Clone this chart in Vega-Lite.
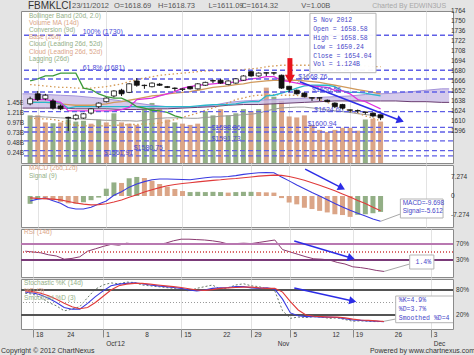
{
"$schema":"https://vega.github.io/schema/vega-lite/v6.json",
"background":"#e4e4e4",
"padding":0,
"bounds":"flush",
"spacing":2,
"config":{"view":{"stroke":"#8a8a8a","fill":"white"},"font":"Liberation Sans","axis":{"labelFont":"Liberation Sans"},"text":{"font":"Liberation Sans"}},
"datasets":{
"px":[
{"i":-1,"o":1634,"h":1644,"l":1632,"c":1641,"vol":1.15,"vd":"g","vma":1.12,"conv":1640,"base":1636,"bbu":1661,"bbm":1637,"bbl":1614,"lag":1666,"macd":-1.9,"sig":-0.7,"hist":-3.0,"hd":"g","rsi":52,"k":72,"d":75,"sd":78},
{"i":0,"o":1648,"h":1652,"l":1638,"c":1640,"vol":1.15,"vd":"r","vma":1.12,"conv":1640,"base":1636,"bbu":1660,"bbm":1636,"bbl":1613,"lag":1669,"macd":-1.2,"sig":-0.9,"hist":-1.2,"hd":"g","rsi":50,"k":70,"d":73,"sd":76},
{"i":1,"o":1641,"h":1648,"l":1639,"c":1646,"vol":0.98,"vd":"r","vma":1.11,"conv":1640,"base":1636,"bbu":1659,"bbm":1636,"bbl":1613,"lag":1673,"macd":-0.8,"sig":-1.0,"hist":-1.3,"hd":"r","rsi":48,"k":62,"d":68,"sd":72},
{"i":2,"o":1638,"h":1641,"l":1626,"c":1628,"vol":0.96,"vd":"g","vma":1.10,"conv":1638,"base":1636,"bbu":1658,"bbm":1635,"bbl":1612,"lag":1673,"macd":-1.8,"sig":-1.2,"hist":-1.6,"hd":"r","rsi":43,"k":50,"d":60,"sd":66},
{"i":3,"o":1631,"h":1633,"l":1625,"c":1627,"vol":0.98,"vd":"r","vma":1.09,"conv":1636,"base":1635,"bbu":1657,"bbm":1634,"bbl":1610,"lag":1677,"macd":-2.8,"sig":-1.5,"hist":-2.2,"hd":"r","rsi":40,"k":42,"d":50,"sd":58},
{"i":4,"o":1615,"h":1616,"l":1596,"c":1614,"vol":1.05,"vd":"g","vma":1.08,"conv":1624,"base":1628,"bbu":1657,"bbm":1633,"bbl":1606,"lag":1677,"macd":-4.4,"sig":-2.1,"hist":-2.8,"hd":"r","rsi":32,"k":30,"d":38,"sd":48},
{"i":5,"o":1613,"h":1620,"l":1611,"c":1618,"vol":1.00,"vd":"g","vma":1.07,"conv":1624,"base":1630,"bbu":1656,"bbm":1632,"bbl":1604,"lag":1677,"macd":-5.0,"sig":-2.7,"hist":-3.0,"hd":"r","rsi":34,"k":34,"d":34,"sd":40},
{"i":6,"o":1614,"h":1621,"l":1613,"c":1620,"vol":1.02,"vd":"g","vma":1.06,"conv":1624,"base":1630,"bbu":1656,"bbm":1632,"bbl":1603,"lag":1656,"macd":-5.0,"sig":-3.1,"hist":-2.4,"hd":"g","rsi":38,"k":40,"d":34,"sd":35},
{"i":7,"o":1621,"h":1628,"l":1619,"c":1627,"vol":0.95,"vd":"r","vma":1.05,"conv":1624,"base":1630,"bbu":1656,"bbm":1632,"bbl":1603,"lag":1654,"macd":-4.3,"sig":-3.4,"hist":-1.6,"hd":"g","rsi":52,"k":62,"d":48,"sd":38},
{"i":8,"o":1630,"h":1636,"l":1628,"c":1635,"vol":1.05,"vd":"g","vma":1.04,"conv":1624,"base":1630,"bbu":1657,"bbm":1633,"bbl":1603,"lag":1648,"macd":-3.1,"sig":-3.3,"hist":-0.6,"hd":"g","rsi":58,"k":82,"d":64,"sd":50},
{"i":9,"o":1637,"h":1643,"l":1636,"c":1642,"vol":0.98,"vd":"r","vma":1.03,"conv":1624,"base":1630,"bbu":1658,"bbm":1634,"bbl":1603,"lag":1644,"macd":-1.9,"sig":-3.0,"hist":2.8,"hd":"g","rsi":64,"k":92,"d":78,"sd":65},
{"i":10,"o":1645,"h":1653,"l":1643,"c":1652,"vol":1.20,"vd":"g","vma":1.03,"conv":1624,"base":1630,"bbu":1660,"bbm":1636,"bbl":1604,"lag":1642,"macd":0.3,"sig":-2.3,"hist":5.2,"hd":"g","rsi":69,"k":97,"d":90,"sd":80},
{"i":11,"o":1653,"h":1655,"l":1645,"c":1648,"vol":0.98,"vd":"r","vma":1.02,"conv":1626,"base":1630,"bbu":1662,"bbm":1637,"bbl":1604,"lag":1642,"macd":1.6,"sig":-1.5,"hist":5.0,"hd":"r","rsi":67,"k":95,"d":94,"sd":90},
{"i":12,"o":1650,"h":1663,"l":1649,"c":1662,"vol":0.95,"vd":"r","vma":1.02,"conv":1629,"base":1630,"bbu":1665,"bbm":1639,"bbl":1605,"lag":1637,"macd":3.4,"sig":-0.5,"hist":6.8,"hd":"g","rsi":72,"k":99,"d":96,"sd":94},
{"i":13,"o":1666,"h":1670,"l":1658,"c":1660,"vol":0.92,"vd":"r","vma":1.01,"conv":1640,"base":1630,"bbu":1668,"bbm":1641,"bbl":1605,"lag":1630,"macd":4.6,"sig":0.5,"hist":7.3,"hd":"g","rsi":70,"k":98,"d":97,"sd":96},
{"i":14,"o":1660,"h":1661,"l":1655,"c":1659.5,"vol":1.30,"vd":"g","vma":1.03,"conv":1641,"base":1630,"bbu":1670,"bbm":1643,"bbl":1606,"lag":1628,"macd":5.5,"sig":1.5,"hist":6.9,"hd":"r","rsi":69,"k":92,"d":95,"sd":96},
{"i":15,"o":1658,"h":1664,"l":1657,"c":1663,"vol":1.45,"vd":"g","vma":1.06,"conv":1642,"base":1630,"bbu":1672,"bbm":1645,"bbl":1606,"lag":1625,"macd":6.2,"sig":2.4,"hist":5.8,"hd":"r","rsi":71,"k":90,"d":92,"sd":94},
{"i":16,"o":1661.5,"h":1663,"l":1659,"c":1660,"vol":1.30,"vd":"r","vma":1.08,"conv":1645,"base":1630,"bbu":1674,"bbm":1646,"bbl":1607,"lag":1624,"macd":6.5,"sig":3.2,"hist":4.6,"hd":"r","rsi":69,"k":88,"d":90,"sd":92},
{"i":17,"o":1658,"h":1659,"l":1656,"c":1657,"vol":1.05,"vd":"r","vma":1.09,"conv":1648,"base":1630,"bbu":1675,"bbm":1648,"bbl":1609,"lag":1622,"macd":6.5,"sig":3.9,"hist":3.6,"hd":"r","rsi":72,"k":86,"d":88,"sd":90},
{"i":18,"o":1656,"h":1657,"l":1652,"c":1655.5,"vol":0.98,"vd":"g","vma":1.09,"conv":1651,"base":1630,"bbu":1676,"bbm":1649,"bbl":1612,"lag":1617,"macd":6.4,"sig":4.4,"hist":2.7,"hd":"r","rsi":78,"k":84,"d":86,"sd":88},
{"i":19,"o":1654,"h":1656,"l":1652,"c":1655,"vol":0.95,"vd":"r","vma":1.09,"conv":1656,"base":1630,"bbu":1677,"bbm":1650,"bbl":1615,"lag":1614.32,"macd":6.3,"sig":4.8,"hist":1.9,"hd":"r","rsi":82,"k":80,"d":84,"sd":86},
{"i":20,"o":1658,"h":1659,"l":1654,"c":1655,"vol":0.92,"vd":"r","vma":1.08,"conv":1658,"base":1630,"bbu":1678,"bbm":1651,"bbl":1618,"macd":6.2,"sig":5.1,"hist":1.5,"hd":"g","rsi":82,"k":78,"d":80,"sd":83},
{"i":21,"o":1655,"h":1663,"l":1654,"c":1662,"vol":0.95,"vd":"r","vma":1.08,"conv":1660,"base":1631,"bbu":1679,"bbm":1653,"bbl":1621,"macd":6.6,"sig":5.4,"hist":1.6,"hd":"g","rsi":81,"k":84,"d":78,"sd":80},
{"i":22,"o":1660,"h":1665,"l":1659,"c":1664,"vol":1.25,"vd":"g","vma":1.10,"conv":1661,"base":1632,"bbu":1680,"bbm":1655,"bbl":1625,"macd":7.0,"sig":5.7,"hist":1.5,"hd":"g","rsi":80,"k":88,"d":80,"sd":79},
{"i":23,"o":1666.5,"h":1668,"l":1663,"c":1666,"vol":1.15,"vd":"g","vma":1.11,"conv":1662,"base":1633,"bbu":1680,"bbm":1657,"bbl":1628,"macd":7.3,"sig":6.0,"hist":1.6,"hd":"g","rsi":78,"k":92,"d":84,"sd":81},
{"i":24,"o":1667,"h":1669,"l":1662,"c":1663,"vol":1.30,"vd":"r","vma":1.13,"conv":1663,"base":1633,"bbu":1681,"bbm":1658,"bbl":1632,"macd":7.3,"sig":6.2,"hist":1.5,"hd":"g","rsi":75,"k":82,"d":85,"sd":84},
{"i":25,"o":1661,"h":1667,"l":1660,"c":1666,"vol":1.15,"vd":"g","vma":1.14,"conv":1663,"base":1633,"bbu":1681,"bbm":1659,"bbl":1635,"macd":7.5,"sig":6.5,"hist":1.3,"hd":"r","rsi":70,"k":85,"d":86,"sd":85},
{"i":26,"o":1663,"h":1670,"l":1662,"c":1669,"vol":1.20,"vd":"g","vma":1.15,"conv":1665,"base":1634,"bbu":1681,"bbm":1661,"bbl":1640,"macd":7.8,"sig":6.7,"hist":1.5,"hd":"g","rsi":71,"k":92,"d":88,"sd":86},
{"i":27,"o":1667,"h":1674,"l":1666,"c":1673,"vol":1.30,"vd":"g","vma":1.17,"conv":1667,"base":1636,"bbu":1682,"bbm":1662,"bbl":1642,"macd":8.3,"sig":7.0,"hist":1.6,"hd":"g","rsi":72,"k":95,"d":88,"sd":87},
{"i":28,"o":1679,"h":1680,"l":1672,"c":1673,"vol":1.25,"vd":"r","vma":1.18,"conv":1669,"base":1637,"bbu":1683,"bbm":1664,"bbl":1645,"macd":8.6,"sig":7.3,"hist":1.6,"hd":"g","rsi":71,"k":90,"d":85,"sd":87},
{"i":29,"o":1673,"h":1678,"l":1672,"c":1677,"vol":1.30,"vd":"g","vma":1.20,"conv":1670,"base":1637,"bbu":1684,"bbm":1665,"bbl":1646,"macd":8.9,"sig":7.6,"hist":1.5,"hd":"r","rsi":74,"k":88,"d":84,"sd":85},
{"i":30,"o":1677.5,"h":1678,"l":1673,"c":1677,"vol":1.82,"vd":"r","vma":1.26,"conv":1672,"base":1645,"bbu":1686,"bbm":1666,"bbl":1646,"macd":9.0,"sig":7.8,"hist":1.4,"hd":"r","rsi":77,"k":82,"d":85,"sd":84},
{"i":31,"o":1677.5,"h":1678,"l":1674,"c":1677,"vol":1.60,"vd":"g","vma":1.30,"conv":1672,"base":1646,"bbu":1687,"bbm":1667,"bbl":1647,"macd":8.9,"sig":8.0,"hist":1.3,"hd":"r","rsi":80,"k":78,"d":82,"sd":84},
{"i":32,"o":1674,"h":1675,"l":1655,"c":1656,"vol":1.50,"vd":"r","vma":1.33,"conv":1667,"base":1649,"bbu":1688,"bbm":1667,"bbl":1646,"macd":7.3,"sig":7.9,"hist":-0.8,"hd":"r","rsi":56,"k":30,"d":58,"sd":75},
{"i":33,"o":1658.58,"h":1658.58,"l":1650.24,"c":1654.04,"vol":1.124,"vd":"r","vma":1.34,"conv":1665,"base":1652,"bbu":1688,"bbm":1667,"bbl":1646,"macd":5.8,"sig":7.5,"hist":-2.5,"hd":"r","rsi":50,"k":12,"d":25,"sd":52},
{"i":34,"o":1653,"h":1654,"l":1647,"c":1648,"vol":1.10,"vd":"r","vma":1.35,"conv":1663,"base":1656,"bbu":1688,"bbm":1667,"bbl":1646,"macd":4.2,"sig":6.8,"hist":-3.2,"hd":"r","rsi":44,"k":15,"d":18,"sd":32},
{"i":35,"o":1649,"h":1650,"l":1643,"c":1644,"vol":1.15,"vd":"r","vma":1.35,"conv":1661,"base":1659,"bbu":1688,"bbm":1666,"bbl":1644,"macd":2.8,"sig":6.0,"hist":-4.5,"hd":"r","rsi":38,"k":14,"d":16,"sd":20},
{"i":36,"o":1642.5,"h":1643,"l":1638,"c":1642,"vol":0.92,"vd":"r","vma":1.33,"conv":1659,"base":1660,"bbu":1688,"bbm":1665,"bbl":1642,"macd":1.3,"sig":5.1,"hist":-5.0,"hd":"r","rsi":33,"k":16,"d":16,"sd":17},
{"i":37,"o":1642.5,"h":1643,"l":1638,"c":1642,"vol":0.80,"vd":"r","vma":1.31,"conv":1658,"base":1660,"bbu":1688,"bbm":1664,"bbl":1640,"macd":0.0,"sig":4.1,"hist":-5.7,"hd":"r","rsi":32,"k":15,"d":15,"sd":16},
{"i":38,"o":1639,"h":1640,"l":1636,"c":1637,"vol":0.75,"vd":"r","vma":1.28,"conv":1657,"base":1660,"bbu":1688,"bbm":1662,"bbl":1636,"macd":-1.4,"sig":3.1,"hist":-6.3,"hd":"r","rsi":30,"k":12,"d":15,"sd":15},
{"i":39,"o":1635,"h":1636,"l":1628,"c":1630,"vol":0.80,"vd":"r","vma":1.26,"conv":1653,"base":1658,"bbu":1688,"bbm":1660,"bbl":1632,"macd":-2.9,"sig":2.0,"hist":-7.0,"hd":"r","rsi":24,"k":13,"d":14,"sd":15},
{"i":40,"o":1633,"h":1634,"l":1626,"c":1628,"vol":0.85,"vd":"r","vma":1.24,"conv":1652,"base":1652,"bbu":1688,"bbm":1658,"bbl":1628,"macd":-4.2,"sig":0.8,"hist":-7.3,"hd":"r","rsi":20,"k":9,"d":11,"sd":13},
{"i":41,"o":1625.5,"h":1626,"l":1622,"c":1625,"vol":0.85,"vd":"r","vma":1.22,"conv":1648,"base":1650,"bbu":1688,"bbm":1656,"bbl":1624,"macd":-5.5,"sig":-0.4,"hist":-8.0,"hd":"r","rsi":13,"k":5,"d":8,"sd":10},
{"i":42,"o":1624.5,"h":1626,"l":1621,"c":1624,"vol":0.78,"vd":"r","vma":1.19,"conv":1640,"base":1650,"bbu":1687,"bbm":1654,"bbl":1621,"macd":-6.6,"sig":-1.7,"hist":-7.2,"hd":"g","rsi":11,"k":6,"d":7,"sd":8},
{"i":43,"o":1622.5,"h":1623,"l":1619,"c":1622,"vol":1.05,"vd":"g","vma":1.17,"conv":1637,"base":1649,"bbu":1687,"bbm":1652,"bbl":1617,"macd":-7.7,"sig":-2.9,"hist":-7.0,"hd":"g","rsi":8,"k":5,"d":6,"sd":7},
{"i":44,"o":1621,"h":1622,"l":1615,"c":1617,"vol":1.07,"vd":"r","vma":1.15,"conv":1632,"base":1647,"bbu":1686,"bbm":1650,"bbl":1614,"macd":-8.8,"sig":-4.3,"hist":-6.6,"hd":"g","rsi":4,"k":4,"d":5,"sd":6},
{"i":45,"o":1618.69,"h":1618.73,"l":1611.09,"c":1614.32,"vol":1.00,"vd":"r","vma":1.12,"conv":1627,"base":1645,"bbu":1686,"bbm":1648,"bbl":1610,"macd":-9.698,"sig":-5.612,"hist":-6.1,"hd":"g","rsi":1.4,"k":4.9,"d":3.7,"sd":4.5}
],
"cloud":[
{"i":-2,"a":1648,"b":1628},{"i":-1,"a":1648,"b":1628},{"i":1,"a":1647,"b":1628},{"i":3,"a":1646,"b":1628},{"i":5,"a":1645,"b":1627},{"i":7,"a":1643,"b":1627},{"i":9,"a":1641,"b":1627},{"i":11,"a":1638,"b":1626},{"i":13,"a":1635,"b":1626},{"i":15,"a":1632,"b":1627},{"i":17,"a":1630,"b":1627},{"i":19,"a":1629,"b":1628},{"i":21,"a":1630,"b":1629},{"i":23,"a":1632,"b":1630},{"i":25,"a":1636,"b":1632},{"i":27,"a":1638,"b":1633},{"i":29,"a":1639,"b":1633},{"i":31,"a":1640,"b":1634},{"i":33,"a":1641,"b":1635},{"i":35,"a":1642,"b":1636},{"i":37,"a":1643,"b":1637},{"i":39,"a":1644,"b":1638},{"i":41,"a":1645,"b":1638},{"i":43,"a":1647,"b":1638},{"i":45,"a":1648,"b":1638},{"i":47,"a":1649,"b":1638},{"i":49,"a":1651,"b":1637},{"i":51,"a":1653,"b":1637},{"i":53,"a":1655,"b":1636},{"i":54,"a":1655,"b":1636}
],
"fib":[{"v":1730},{"v":1681},{"v":1668.76},{"v":1650.56},{"v":1623},{"v":1601},{"v":1594.5},{"v":1582},{"v":1568.5},{"v":1561}],
"fibl":[
{"i":5.9,"v":1734.6,"t":"100%  (1730)"},
{"i":5.9,"v":1684.1,"t":"61.8%  (1681)"},
{"i":34.2,"v":1671.5,"t":"$1668.76"},
{"i":36.0,"v":1653.3,"t":"$1650.56"},
{"i":36.3,"v":1625.5,"t":"$1624.60"},
{"i":35.4,"v":1605.7,"t":"$1600.94"},
{"i":22.8,"v":1600,"t":"$1598.86"},
{"i":22.8,"v":1585.4,"t":"$1591.73"},
{"i":12.6,"v":1572,"t":"$1580.75"},
{"i":8.7,"v":1565,"t":"$1561.91"}
],
"leg":[
{"i":-1.15,"v":1757,"t":"Bollinger Band (20d, 2.0)","s":"bb"},
{"i":-1.15,"v":1747.2,"t":"Volume MA (14d)","s":"vma"},
{"i":-1.15,"v":1737.4,"t":"Conversion (9d)","s":"conv"},
{"i":-1.15,"v":1727.6,"t":"Base (26d)","s":"base"},
{"i":-1.15,"v":1717.8,"t":"Cloud (Leading 26d, 52d)","s":"c1"},
{"i":-1.15,"v":1706.6,"t":"Cloud (Leading 26d, 52d)","s":"c2"},
{"i":-1.15,"v":1696.7,"t":"Lagging (26d)","s":"lag"}
],
"hdr":[
{"i":-1.28,"v":1771,"t":"FBMKLCI","s":"a"},
{"i":4.5,"v":1771,"t":"23/11/2012","s":"b"},
{"i":10.0,"v":1771,"t":"O=1618.69","s":"b"},
{"i":15.8,"v":1771,"t":"H=1618.73","s":"b"},
{"i":22.4,"v":1771,"t":"L=1611.09","s":"b"},
{"i":26.7,"v":1771,"t":"C=1614.32","s":"b"},
{"i":34.6,"v":1771,"t":"V=1.00B","s":"b"},
{"i":53.6,"v":1771,"t":"Charted By EDWIN3US","s":"c"}
],
"pl":[{"v":1596},{"v":1610},{"v":1624},{"v":1638},{"v":1652},{"v":1666},{"v":1680},{"v":1694},{"v":1708},{"v":1722},{"v":1736},{"v":1750},{"v":1764}],
"vl":[{"v":0.24,"t":"0.24B"},{"v":0.48,"t":"0.48B"},{"v":0.73,"t":"0.73B"},{"v":0.97,"t":"0.97B"},{"v":1.21,"t":"1.21B"},{"v":1.45,"t":"1.45B"}],
"ml":[{"v":7.274,"t":"7.274"},{"v":0,"t":"0"},{"v":-7.274,"t":"-7.274"}],
"rl":[{"v":70,"t":"70%"},{"v":30,"t":"30%"}],
"sl":[{"v":80,"t":"80%"},{"v":20,"t":"20%"}],
"xt":[
{"i":0,"t":"18","r":1},{"i":4,"t":"24","r":1},{"i":9,"t":"1","r":1},{"i":9,"t":"Oct'12","r":2},{"i":14,"t":"8","r":1},{"i":19,"t":"15","r":1},{"i":24,"t":"22","r":1},{"i":28,"t":"29","r":1},{"i":31,"t":"Nov","r":2},{"i":33,"t":"5","r":1},{"i":38,"t":"12","r":1},{"i":41,"t":"19","r":1},{"i":46,"t":"26","r":1},{"i":51,"t":"3","r":1},{"i":51,"t":"Dec","r":2}
],
"foot":[{"t":"Copyright © 2012 ChartNexus","s":"l"},{"t":"Powered by www.chartnexus.com","s":"r"}],
"red":[{"i":33.1,"v":1698,"v2":1674,"vh":1668.5}],
"arr":[
{"p":"main","i":34.4,"v":1665,"i2":47.6,"v2":1610.6},
{"p":"macd","i":35.1,"v":10.3,"i2":39.9,"v2":3.1},
{"p":"rsi","i":33.5,"v":77.5,"i2":40.8,"v2":35},
{"p":"sto","i":33.5,"v":84.8,"i2":41,"v2":53.6}
],
"box":[
{"p":"main","i":35.73,"i2":44.4,"v":1760.8,"v2":1677.6},
{"p":"macd","i":47.6,"i2":53.2,"v":-1.15,"v2":-8.43},
{"p":"rsi","i":48.3,"i2":51.4,"v":42.5,"v2":7.5},
{"p":"sto","i":46.5,"i2":56,"v":65.6,"v2":1.5}
],
"cn":[
{"p":"main","i":35.8,"i2":34.0,"v":1677.4,"v2":1663},
{"p":"macd","i":47.6,"i2":45,"v":-6.9,"v2":-9.698},
{"p":"rsi","i":48.3,"i2":45,"v":20,"v2":1.4},
{"p":"sto","i":46.5,"i2":45,"v":10.4,"v2":4.9}
],
"txt":[
{"p":"main","i":36.15,"v":1751.4,"t":"5 Nov 2012"},
{"p":"main","i":36.15,"v":1738.4,"t":"Open  = 1658.58"},
{"p":"main","i":36.15,"v":1725.8,"t":"High  = 1658.58"},
{"p":"main","i":36.15,"v":1713.6,"t":"Low   = 1650.24"},
{"p":"main","i":36.15,"v":1701,"t":"Close = 1654.04"},
{"p":"main","i":36.15,"v":1689.3,"t":"Vol   = 1.124B"},
{"p":"macd","i":47.9,"v":-2.68,"t":"MACD=-9.698"},
{"p":"macd","i":47.9,"v":-5.75,"t":"Signal=-5.612"},
{"p":"rsi","i":49.05,"v":25,"t":"1.4%"},
{"p":"sto","i":46.9,"v":57.2,"t":"%K=4.9%"},
{"p":"sto","i":46.9,"v":35.1,"t":"%D=3.7%"},
{"p":"sto","i":46.9,"v":13.5,"t":"Smoothed %D=4"}
],
"plab":[
{"p":"macd","i":-1.15,"v":10.7,"t":"MACD (26d,12d)","s":"blue"},
{"p":"macd","i":-1.15,"v":7.66,"t":"Signal (9)","s":"red"},
{"p":"rsi","i":-1.15,"v":100,"t":"RSI (14d)","s":"rsi"},
{"p":"sto","i":-1.15,"v":96.8,"t":"Stochastic %K (14d)","s":"k"},
{"p":"sto","i":-1.15,"v":77.6,"t":"%D (3)","s":"blue"},
{"p":"sto","i":-1.15,"v":60.8,"t":"Smoothed %D (3)","s":"red"}
]
},
"vconcat":[
{
"width":432,"height":152,
"resolve":{"scale":{"y":"independent"}},
"layer":[
{"layer":[
{"data":{"name":"px"},"mark":{"type":"bar","width":5},"encoding":{
"x":{"field":"i","type":"quantitative","scale":{"domain":[-1.54,53.85],"nice":false,"zero":false},"axis":{"values":[0,4,9,14,19,24,28,31,33,38,41,46,51],"grid":true,"gridColor":"#e3e3e3","labels":false,"ticks":false,"domain":false,"title":null}},
"y":{"field":"vol","type":"quantitative","scale":{"domain":[0,3.67],"nice":false,"zero":false},"axis":{"orient":"left","labels":false,"title":null,"ticks":false,"domain":false,"grid":false}},
"color":{"field":"vd","type":"nominal","scale":{"domain":["g","r"],"range":["#93af86","#dba587"]},"legend":null}}},
{"data":{"name":"px"},"mark":{"type":"line","color":"#9a9a9a","strokeWidth":1},"encoding":{
"x":{"field":"i","type":"quantitative","scale":{"domain":[-1.54,53.85],"nice":false,"zero":false}},
"y":{"field":"vma","type":"quantitative","scale":{"domain":[0,3.67],"nice":false,"zero":false}}}},
{"data":{"name":"vl"},"mark":{"type":"text","align":"right","baseline":"middle","fontSize":6.5,"color":"#333333"},"encoding":{
"x":{"datum":-1.8,"type":"quantitative","scale":{"domain":[-1.54,53.85],"nice":false,"zero":false}},
"y":{"field":"v","type":"quantitative","scale":{"domain":[0,3.67],"nice":false,"zero":false}},
"text":{"field":"t"}}}
]},
{"layer":[
{"data":{"name":"cloud"},"mark":{"type":"area","color":"#cbbde6","opacity":0.8,"clip":true},"encoding":{
"x":{"field":"i","type":"quantitative","scale":{"domain":[-1.54,53.85],"nice":false,"zero":false}},
"y":{"field":"a","type":"quantitative","scale":{"domain":[1551.1,1764],"nice":false,"zero":false},"axis":{"orient":"right","labels":false,"title":null,"ticks":false,"domain":false,"grid":false}},
"y2":{"field":"b"}}},
{"data":{"name":"cloud"},"mark":{"type":"line","color":"#a393da","strokeWidth":1,"clip":true},"encoding":{
"x":{"field":"i","type":"quantitative","scale":{"domain":[-1.54,53.85],"nice":false,"zero":false}},
"y":{"field":"a","type":"quantitative","scale":{"domain":[1551.1,1764],"nice":false,"zero":false}}}},
{"data":{"name":"cloud"},"mark":{"type":"line","color":"#6a3d70","strokeWidth":1,"clip":true},"encoding":{
"x":{"field":"i","type":"quantitative","scale":{"domain":[-1.54,53.85],"nice":false,"zero":false}},
"y":{"field":"b","type":"quantitative","scale":{"domain":[1551.1,1764],"nice":false,"zero":false}}}},
{"data":{"name":"px"},"mark":{"type":"line","color":"#d49a55","strokeWidth":1.3,"strokeDash":[1.5,2.5]},"encoding":{
"x":{"field":"i","type":"quantitative","scale":{"domain":[-1.54,53.85],"nice":false,"zero":false}},
"y":{"field":"bbu","type":"quantitative","scale":{"domain":[1551.1,1764],"nice":false,"zero":false}}}},
{"data":{"name":"px"},"mark":{"type":"line","color":"#d49a55","strokeWidth":1.3,"strokeDash":[1.5,2.5]},"encoding":{
"x":{"field":"i","type":"quantitative","scale":{"domain":[-1.54,53.85],"nice":false,"zero":false}},
"y":{"field":"bbl","type":"quantitative","scale":{"domain":[1551.1,1764],"nice":false,"zero":false}}}},
{"data":{"name":"px"},"mark":{"type":"line","color":"#d09a5c","strokeWidth":1.3},"encoding":{
"x":{"field":"i","type":"quantitative","scale":{"domain":[-1.54,53.85],"nice":false,"zero":false}},
"y":{"field":"bbm","type":"quantitative","scale":{"domain":[1551.1,1764],"nice":false,"zero":false}}}},
{"data":{"name":"px"},"mark":{"type":"line","color":"#2ab8cc","strokeWidth":1.3},"encoding":{
"x":{"field":"i","type":"quantitative","scale":{"domain":[-1.54,53.85],"nice":false,"zero":false}},
"y":{"field":"base","type":"quantitative","scale":{"domain":[1551.1,1764],"nice":false,"zero":false}}}},
{"data":{"name":"px"},"mark":{"type":"line","color":"#e030e0","strokeWidth":1.3},"encoding":{
"x":{"field":"i","type":"quantitative","scale":{"domain":[-1.54,53.85],"nice":false,"zero":false}},
"y":{"field":"conv","type":"quantitative","scale":{"domain":[1551.1,1764],"nice":false,"zero":false}}}},
{"data":{"name":"px"},"mark":{"type":"line","color":"#3a9a3a","strokeWidth":1.3},"encoding":{
"x":{"field":"i","type":"quantitative","scale":{"domain":[-1.54,53.85],"nice":false,"zero":false}},
"y":{"field":"lag","type":"quantitative","scale":{"domain":[1551.1,1764],"nice":false,"zero":false}}}},
{"data":{"name":"fib"},"mark":{"type":"rule","color":"#5f5fe6","strokeWidth":1.3,"strokeDash":[5,3]},"encoding":{
"y":{"field":"v","type":"quantitative","scale":{"domain":[1551.1,1764],"nice":false,"zero":false}}}},
{"data":{"name":"fibl"},"mark":{"type":"text","align":"left","baseline":"middle","fontSize":7,"color":"#4a4ad6"},"encoding":{
"x":{"field":"i","type":"quantitative","scale":{"domain":[-1.54,53.85],"nice":false,"zero":false}},
"y":{"field":"v","type":"quantitative","scale":{"domain":[1551.1,1764],"nice":false,"zero":false}},
"text":{"field":"t"}}},
{"data":{"name":"px"},"mark":{"type":"rule","color":"#111111","strokeWidth":1},"encoding":{
"x":{"field":"i","type":"quantitative","scale":{"domain":[-1.54,53.85],"nice":false,"zero":false}},
"y":{"field":"l","type":"quantitative","scale":{"domain":[1551.1,1764],"nice":false,"zero":false}},
"y2":{"field":"h"}}},
{"data":{"name":"px"},"mark":{"type":"bar","width":5,"stroke":"#111111","strokeWidth":0.8},"encoding":{
"x":{"field":"i","type":"quantitative","scale":{"domain":[-1.54,53.85],"nice":false,"zero":false}},
"y":{"field":"o","type":"quantitative","scale":{"domain":[1551.1,1764],"nice":false,"zero":false}},
"y2":{"field":"c"},
"fill":{"condition":{"test":"datum.c>=datum.o","value":"#ffffff"},"value":"#111111"}}},
{"data":{"name":"red"},"mark":{"type":"rule","color":"#e8141c","strokeWidth":5},"encoding":{
"x":{"field":"i","type":"quantitative","scale":{"domain":[-1.54,53.85],"nice":false,"zero":false}},
"y":{"field":"v","type":"quantitative","scale":{"domain":[1551.1,1764],"nice":false,"zero":false}},
"y2":{"field":"v2"}}},
{"data":{"name":"red"},"mark":{"type":"point","shape":"triangle-down","filled":true,"size":100,"color":"#e8141c","opacity":1},"encoding":{
"x":{"field":"i","type":"quantitative","scale":{"domain":[-1.54,53.85],"nice":false,"zero":false}},
"y":{"field":"vh","type":"quantitative","scale":{"domain":[1551.1,1764],"nice":false,"zero":false}}}},
{"data":{"name":"arr"},"transform":[{"filter":"datum.p=='main'"}],"mark":{"type":"rule","color":"#2c2ce6","strokeWidth":1.5},"encoding":{
"x":{"field":"i","type":"quantitative","scale":{"domain":[-1.54,53.85],"nice":false,"zero":false}},
"x2":{"field":"i2"},
"y":{"field":"v","type":"quantitative","scale":{"domain":[1551.1,1764],"nice":false,"zero":false}},
"y2":{"field":"v2"}}},
{"data":{"name":"arr"},"transform":[{"filter":"datum.p=='main'"}],"mark":{"type":"point","shape":"triangle-right","filled":true,"size":70,"color":"#2c2ce6","opacity":1,"angle":21},"encoding":{
"x":{"field":"i2","type":"quantitative","scale":{"domain":[-1.54,53.85],"nice":false,"zero":false}},
"y":{"field":"v2","type":"quantitative","scale":{"domain":[1551.1,1764],"nice":false,"zero":false}}}},
{"data":{"name":"cn"},"transform":[{"filter":"datum.p=='main'"}],"mark":{"type":"rule","color":"#a8a8a8","strokeWidth":1},"encoding":{
"x":{"field":"i","type":"quantitative","scale":{"domain":[-1.54,53.85],"nice":false,"zero":false}},
"x2":{"field":"i2"},
"y":{"field":"v","type":"quantitative","scale":{"domain":[1551.1,1764],"nice":false,"zero":false}},
"y2":{"field":"v2"}}},
{"data":{"name":"box"},"transform":[{"filter":"datum.p=='main'"}],"mark":{"type":"rect","fill":"#ffffff","fillOpacity":0.95,"stroke":"#b4b4b4","strokeWidth":1},"encoding":{
"x":{"field":"i","type":"quantitative","scale":{"domain":[-1.54,53.85],"nice":false,"zero":false}},
"x2":{"field":"i2"},
"y":{"field":"v","type":"quantitative","scale":{"domain":[1551.1,1764],"nice":false,"zero":false}},
"y2":{"field":"v2"}}},
{"data":{"name":"txt"},"transform":[{"filter":"datum.p=='main'"}],"mark":{"type":"text","align":"left","baseline":"middle","font":"Liberation Mono","fontSize":6.5,"color":"#4646c8"},"encoding":{
"x":{"field":"i","type":"quantitative","scale":{"domain":[-1.54,53.85],"nice":false,"zero":false}},
"y":{"field":"v","type":"quantitative","scale":{"domain":[1551.1,1764],"nice":false,"zero":false}},
"text":{"field":"t"}}},
{"data":{"name":"leg"},"mark":{"type":"text","align":"left","baseline":"middle","fontSize":6.5},"encoding":{
"x":{"field":"i","type":"quantitative","scale":{"domain":[-1.54,53.85],"nice":false,"zero":false}},
"y":{"field":"v","type":"quantitative","scale":{"domain":[1551.1,1764],"nice":false,"zero":false}},
"text":{"field":"t"},
"color":{"field":"s","type":"nominal","scale":{"domain":["bb","vma","conv","base","c1","c2","lag"],"range":["#c8965a","#8a8a8a","#e030e0","#22b4c8","#9c8cd8","#5a2a5a","#3a9a3a"]},"legend":null}}},
{"data":{"name":"hdr"},"transform":[{"filter":"datum.s=='a'"}],"mark":{"type":"text","align":"left","baseline":"middle","fontSize":10,"color":"#333333"},"encoding":{
"x":{"field":"i","type":"quantitative","scale":{"domain":[-1.54,53.85],"nice":false,"zero":false}},
"y":{"field":"v","type":"quantitative","scale":{"domain":[1551.1,1764],"nice":false,"zero":false}},
"text":{"field":"t"}}},
{"data":{"name":"hdr"},"transform":[{"filter":"datum.s=='b'"}],"mark":{"type":"text","align":"left","baseline":"middle","fontSize":7.5,"color":"#555555"},"encoding":{
"x":{"field":"i","type":"quantitative","scale":{"domain":[-1.54,53.85],"nice":false,"zero":false}},
"y":{"field":"v","type":"quantitative","scale":{"domain":[1551.1,1764],"nice":false,"zero":false}},
"text":{"field":"t"}}},
{"data":{"name":"hdr"},"transform":[{"filter":"datum.s=='c'"}],"mark":{"type":"text","align":"right","baseline":"middle","fontSize":7,"color":"#a8a8a8"},"encoding":{
"x":{"field":"i","type":"quantitative","scale":{"domain":[-1.54,53.85],"nice":false,"zero":false}},
"y":{"field":"v","type":"quantitative","scale":{"domain":[1551.1,1764],"nice":false,"zero":false}},
"text":{"field":"t"}}},
{"data":{"name":"pl"},"mark":{"type":"text","align":"left","baseline":"middle","fontSize":6.5,"color":"#333333"},"encoding":{
"x":{"datum":54.24,"type":"quantitative","scale":{"domain":[-1.54,53.85],"nice":false,"zero":false}},
"y":{"field":"v","type":"quantitative","scale":{"domain":[1551.1,1764],"nice":false,"zero":false}},
"text":{"field":"v","type":"quantitative","format":"d"}}}
]}
]
},
{
"width":432,"height":62,
"layer":[
{"data":{"name":"px"},"mark":{"type":"bar","width":5},"encoding":{
"x":{"field":"i","type":"quantitative","scale":{"domain":[-1.54,53.85],"nice":false,"zero":false},"axis":{"values":[0,4,9,14,19,24,28,31,33,38,41,46,51],"grid":true,"gridColor":"#e3e3e3","labels":false,"ticks":false,"domain":false,"title":null}},
"y":{"field":"hist","type":"quantitative","scale":{"domain":[-11.88,11.88],"nice":false,"zero":false},"axis":{"orient":"right","labels":false,"title":null,"ticks":false,"domain":false,"grid":false}},
"y2":{"datum":0},
"color":{"field":"hd","type":"nominal","scale":{"domain":["g","r"],"range":["#76c276","#e89a80"]},"legend":null}}},
{"data":{"name":"px"},"mark":{"type":"line","color":"#3a3ae0","strokeWidth":1.1},"encoding":{
"x":{"field":"i","type":"quantitative","scale":{"domain":[-1.54,53.85],"nice":false,"zero":false}},
"y":{"field":"macd","type":"quantitative","scale":{"domain":[-11.88,11.88],"nice":false,"zero":false}}}},
{"data":{"name":"px"},"mark":{"type":"line","color":"#e03a3a","strokeWidth":1.1},"encoding":{
"x":{"field":"i","type":"quantitative","scale":{"domain":[-1.54,53.85],"nice":false,"zero":false}},
"y":{"field":"sig","type":"quantitative","scale":{"domain":[-11.88,11.88],"nice":false,"zero":false}}}},
{"data":{"name":"plab"},"transform":[{"filter":"datum.p=='macd'"}],"mark":{"type":"text","align":"left","baseline":"middle","fontSize":6.5},"encoding":{
"x":{"field":"i","type":"quantitative","scale":{"domain":[-1.54,53.85],"nice":false,"zero":false}},
"y":{"field":"v","type":"quantitative","scale":{"domain":[-11.88,11.88],"nice":false,"zero":false}},
"text":{"field":"t"},
"color":{"field":"s","type":"nominal","scale":{"domain":["blue","red","rsi","k"],"range":["#3a3ad8","#e03a3a","#7a2a6a","#222222"]},"legend":null}}},
{"data":{"name":"arr"},"transform":[{"filter":"datum.p=='macd'"}],"mark":{"type":"rule","color":"#2c2ce6","strokeWidth":1.5},"encoding":{
"x":{"field":"i","type":"quantitative","scale":{"domain":[-1.54,53.85],"nice":false,"zero":false}},
"x2":{"field":"i2"},
"y":{"field":"v","type":"quantitative","scale":{"domain":[-11.88,11.88],"nice":false,"zero":false}},
"y2":{"field":"v2"}}},
{"data":{"name":"arr"},"transform":[{"filter":"datum.p=='macd'"}],"mark":{"type":"point","shape":"triangle-right","filled":true,"size":70,"color":"#2c2ce6","opacity":1,"angle":27},"encoding":{
"x":{"field":"i2","type":"quantitative","scale":{"domain":[-1.54,53.85],"nice":false,"zero":false}},
"y":{"field":"v2","type":"quantitative","scale":{"domain":[-11.88,11.88],"nice":false,"zero":false}}}},
{"data":{"name":"cn"},"transform":[{"filter":"datum.p=='macd'"}],"mark":{"type":"rule","color":"#a8a8a8","strokeWidth":1},"encoding":{
"x":{"field":"i","type":"quantitative","scale":{"domain":[-1.54,53.85],"nice":false,"zero":false}},
"x2":{"field":"i2"},
"y":{"field":"v","type":"quantitative","scale":{"domain":[-11.88,11.88],"nice":false,"zero":false}},
"y2":{"field":"v2"}}},
{"data":{"name":"box"},"transform":[{"filter":"datum.p=='macd'"}],"mark":{"type":"rect","fill":"#ffffff","stroke":"#b4b4b4","strokeWidth":1},"encoding":{
"x":{"field":"i","type":"quantitative","scale":{"domain":[-1.54,53.85],"nice":false,"zero":false}},
"x2":{"field":"i2"},
"y":{"field":"v","type":"quantitative","scale":{"domain":[-11.88,11.88],"nice":false,"zero":false}},
"y2":{"field":"v2"}}},
{"data":{"name":"txt"},"transform":[{"filter":"datum.p=='macd'"}],"mark":{"type":"text","align":"left","baseline":"middle","fontSize":6.5,"color":"#4646c8"},"encoding":{
"x":{"field":"i","type":"quantitative","scale":{"domain":[-1.54,53.85],"nice":false,"zero":false}},
"y":{"field":"v","type":"quantitative","scale":{"domain":[-11.88,11.88],"nice":false,"zero":false}},
"text":{"field":"t"}}},
{"data":{"name":"ml"},"mark":{"type":"text","align":"left","baseline":"middle","fontSize":6.5,"color":"#333333"},"encoding":{
"x":{"datum":54.24,"type":"quantitative","scale":{"domain":[-1.54,53.85],"nice":false,"zero":false}},
"y":{"field":"v","type":"quantitative","scale":{"domain":[-11.88,11.88],"nice":false,"zero":false}},
"text":{"field":"t"}}}
]
},
{
"width":432,"height":48,
"layer":[
{"data":{"name":"px"},"mark":{"type":"line","color":"#8a3a70","strokeWidth":1},"encoding":{
"x":{"field":"i","type":"quantitative","scale":{"domain":[-1.54,53.85],"nice":false,"zero":false},"axis":{"values":[0,4,9,14,19,24,28,31,33,38,41,46,51],"grid":true,"gridColor":"#e3e3e3","labels":false,"ticks":false,"domain":false,"title":null}},
"y":{"field":"rsi","type":"quantitative","scale":{"domain":[-12.5,107.5],"nice":false,"zero":false},"axis":{"orient":"right","labels":false,"title":null,"ticks":false,"domain":false,"grid":false}}}},
{"data":{"name":"px"},"mark":{"type":"rule","color":"#b878b0","strokeWidth":1},"encoding":{
"y":{"datum":70,"type":"quantitative","scale":{"domain":[-12.5,107.5],"nice":false,"zero":false}}}},
{"data":{"name":"px"},"mark":{"type":"rule","color":"#7a3a78","strokeWidth":1},"encoding":{
"y":{"datum":30,"type":"quantitative","scale":{"domain":[-12.5,107.5],"nice":false,"zero":false}}}},
{"data":{"name":"px"},"mark":{"type":"rule","color":"#d86a6a","strokeWidth":1,"strokeDash":[1,2]},"encoding":{
"y":{"datum":50,"type":"quantitative","scale":{"domain":[-12.5,107.5],"nice":false,"zero":false}}}},
{"data":{"name":"plab"},"transform":[{"filter":"datum.p=='rsi'"}],"mark":{"type":"text","align":"left","baseline":"middle","fontSize":6.5},"encoding":{
"x":{"field":"i","type":"quantitative","scale":{"domain":[-1.54,53.85],"nice":false,"zero":false}},
"y":{"field":"v","type":"quantitative","scale":{"domain":[-12.5,107.5],"nice":false,"zero":false}},
"text":{"field":"t"},
"color":{"field":"s","type":"nominal","scale":{"domain":["blue","red","rsi","k"],"range":["#3a3ad8","#e03a3a","#7a2a6a","#222222"]},"legend":null}}},
{"data":{"name":"arr"},"transform":[{"filter":"datum.p=='rsi'"}],"mark":{"type":"rule","color":"#2c2ce6","strokeWidth":1.5},"encoding":{
"x":{"field":"i","type":"quantitative","scale":{"domain":[-1.54,53.85],"nice":false,"zero":false}},
"x2":{"field":"i2"},
"y":{"field":"v","type":"quantitative","scale":{"domain":[-12.5,107.5],"nice":false,"zero":false}},
"y2":{"field":"v2"}}},
{"data":{"name":"arr"},"transform":[{"filter":"datum.p=='rsi'"}],"mark":{"type":"point","shape":"triangle-right","filled":true,"size":70,"color":"#2c2ce6","opacity":1,"angle":17},"encoding":{
"x":{"field":"i2","type":"quantitative","scale":{"domain":[-1.54,53.85],"nice":false,"zero":false}},
"y":{"field":"v2","type":"quantitative","scale":{"domain":[-12.5,107.5],"nice":false,"zero":false}}}},
{"data":{"name":"cn"},"transform":[{"filter":"datum.p=='rsi'"}],"mark":{"type":"rule","color":"#a8a8a8","strokeWidth":1},"encoding":{
"x":{"field":"i","type":"quantitative","scale":{"domain":[-1.54,53.85],"nice":false,"zero":false}},
"x2":{"field":"i2"},
"y":{"field":"v","type":"quantitative","scale":{"domain":[-12.5,107.5],"nice":false,"zero":false}},
"y2":{"field":"v2"}}},
{"data":{"name":"box"},"transform":[{"filter":"datum.p=='rsi'"}],"mark":{"type":"rect","fill":"#ffffff","stroke":"#b4b4b4","strokeWidth":1},"encoding":{
"x":{"field":"i","type":"quantitative","scale":{"domain":[-1.54,53.85],"nice":false,"zero":false}},
"x2":{"field":"i2"},
"y":{"field":"v","type":"quantitative","scale":{"domain":[-12.5,107.5],"nice":false,"zero":false}},
"y2":{"field":"v2"}}},
{"data":{"name":"txt"},"transform":[{"filter":"datum.p=='rsi'"}],"mark":{"type":"text","align":"left","baseline":"middle","font":"Liberation Mono","fontSize":6.5,"color":"#4646c8"},"encoding":{
"x":{"field":"i","type":"quantitative","scale":{"domain":[-1.54,53.85],"nice":false,"zero":false}},
"y":{"field":"v","type":"quantitative","scale":{"domain":[-12.5,107.5],"nice":false,"zero":false}},
"text":{"field":"t"}}},
{"data":{"name":"rl"},"mark":{"type":"text","align":"left","baseline":"middle","fontSize":6.5,"color":"#333333"},"encoding":{
"x":{"datum":54.24,"type":"quantitative","scale":{"domain":[-1.54,53.85],"nice":false,"zero":false}},
"y":{"field":"v","type":"quantitative","scale":{"domain":[-12.5,107.5],"nice":false,"zero":false}},
"text":{"field":"t"}}}
]
},
{
"width":432,"height":50,
"layer":[
{"data":{"name":"px"},"mark":{"type":"line","color":"#6a7a6a","strokeWidth":1,"strokeDash":[2,2]},"encoding":{
"x":{"field":"i","type":"quantitative","scale":{"domain":[-1.54,53.85],"nice":false,"zero":false},"axis":{"values":[0,4,9,14,19,24,28,31,33,38,41,46,51],"grid":true,"gridColor":"#e3e3e3","domain":false,"ticks":true,"tickSize":8,"tickColor":"#888888","labels":false,"title":null}},
"y":{"field":"k","type":"quantitative","scale":{"domain":[-13.6,106.4],"nice":false,"zero":false},"axis":{"orient":"right","labels":false,"title":null,"ticks":false,"domain":false,"grid":false}}}},
{"data":{"name":"px"},"mark":{"type":"rule","color":"#555555","strokeWidth":1},"encoding":{
"y":{"datum":80,"type":"quantitative","scale":{"domain":[-13.6,106.4],"nice":false,"zero":false}}}},
{"data":{"name":"px"},"mark":{"type":"rule","color":"#555555","strokeWidth":1},"encoding":{
"y":{"datum":20,"type":"quantitative","scale":{"domain":[-13.6,106.4],"nice":false,"zero":false}}}},
{"data":{"name":"px"},"mark":{"type":"rule","color":"#9a9a9a","strokeWidth":1,"strokeDash":[1,2]},"encoding":{
"y":{"datum":50,"type":"quantitative","scale":{"domain":[-13.6,106.4],"nice":false,"zero":false}}}},
{"data":{"name":"px"},"mark":{"type":"line","color":"#3a3ae0","strokeWidth":1.1},"encoding":{
"x":{"field":"i","type":"quantitative","scale":{"domain":[-1.54,53.85],"nice":false,"zero":false}},
"y":{"field":"d","type":"quantitative","scale":{"domain":[-13.6,106.4],"nice":false,"zero":false}}}},
{"data":{"name":"px"},"mark":{"type":"line","color":"#e03a3a","strokeWidth":1.1},"encoding":{
"x":{"field":"i","type":"quantitative","scale":{"domain":[-1.54,53.85],"nice":false,"zero":false}},
"y":{"field":"sd","type":"quantitative","scale":{"domain":[-13.6,106.4],"nice":false,"zero":false}}}},
{"data":{"name":"plab"},"transform":[{"filter":"datum.p=='sto'"}],"mark":{"type":"text","align":"left","baseline":"middle","fontSize":6.5},"encoding":{
"x":{"field":"i","type":"quantitative","scale":{"domain":[-1.54,53.85],"nice":false,"zero":false}},
"y":{"field":"v","type":"quantitative","scale":{"domain":[-13.6,106.4],"nice":false,"zero":false}},
"text":{"field":"t"},
"color":{"field":"s","type":"nominal","scale":{"domain":["blue","red","rsi","k"],"range":["#3a3ad8","#e03a3a","#7a2a6a","#222222"]},"legend":null}}},
{"data":{"name":"arr"},"transform":[{"filter":"datum.p=='sto'"}],"mark":{"type":"rule","color":"#2c2ce6","strokeWidth":1.5},"encoding":{
"x":{"field":"i","type":"quantitative","scale":{"domain":[-1.54,53.85],"nice":false,"zero":false}},
"x2":{"field":"i2"},
"y":{"field":"v","type":"quantitative","scale":{"domain":[-13.6,106.4],"nice":false,"zero":false}},
"y2":{"field":"v2"}}},
{"data":{"name":"arr"},"transform":[{"filter":"datum.p=='sto'"}],"mark":{"type":"point","shape":"triangle-right","filled":true,"size":70,"color":"#2c2ce6","opacity":1,"angle":12},"encoding":{
"x":{"field":"i2","type":"quantitative","scale":{"domain":[-1.54,53.85],"nice":false,"zero":false}},
"y":{"field":"v2","type":"quantitative","scale":{"domain":[-13.6,106.4],"nice":false,"zero":false}}}},
{"data":{"name":"cn"},"transform":[{"filter":"datum.p=='sto'"}],"mark":{"type":"rule","color":"#a8a8a8","strokeWidth":1},"encoding":{
"x":{"field":"i","type":"quantitative","scale":{"domain":[-1.54,53.85],"nice":false,"zero":false}},
"x2":{"field":"i2"},
"y":{"field":"v","type":"quantitative","scale":{"domain":[-13.6,106.4],"nice":false,"zero":false}},
"y2":{"field":"v2"}}},
{"data":{"name":"box"},"transform":[{"filter":"datum.p=='sto'"}],"mark":{"type":"rect","fill":"#ffffff","stroke":"#b4b4b4","strokeWidth":1,"clip":true},"encoding":{
"x":{"field":"i","type":"quantitative","scale":{"domain":[-1.54,53.85],"nice":false,"zero":false}},
"x2":{"field":"i2"},
"y":{"field":"v","type":"quantitative","scale":{"domain":[-13.6,106.4],"nice":false,"zero":false}},
"y2":{"field":"v2"}}},
{"data":{"name":"txt"},"transform":[{"filter":"datum.p=='sto'"}],"mark":{"type":"text","align":"left","baseline":"middle","font":"Liberation Mono","fontSize":6.5,"color":"#4646c8"},"encoding":{
"x":{"field":"i","type":"quantitative","scale":{"domain":[-1.54,53.85],"nice":false,"zero":false}},
"y":{"field":"v","type":"quantitative","scale":{"domain":[-13.6,106.4],"nice":false,"zero":false}},
"text":{"field":"t"}}},
{"data":{"name":"sl"},"mark":{"type":"text","align":"left","baseline":"middle","fontSize":6.5,"color":"#333333"},"encoding":{
"x":{"datum":54.24,"type":"quantitative","scale":{"domain":[-1.54,53.85],"nice":false,"zero":false}},
"y":{"field":"v","type":"quantitative","scale":{"domain":[-13.6,106.4],"nice":false,"zero":false}},
"text":{"field":"t"}}},
{"data":{"name":"xt"},"transform":[{"filter":"datum.r==1"}],"mark":{"type":"text","align":"left","baseline":"middle","fontSize":6.5,"color":"#333333","dx":3},"encoding":{
"x":{"field":"i","type":"quantitative","scale":{"domain":[-1.54,53.85],"nice":false,"zero":false}},
"y":{"datum":-28,"type":"quantitative","scale":{"domain":[-13.6,106.4],"nice":false,"zero":false}},
"text":{"field":"t"}}},
{"data":{"name":"xt"},"transform":[{"filter":"datum.r==2"}],"mark":{"type":"text","align":"left","baseline":"middle","fontSize":6.5,"color":"#333333","dx":3},"encoding":{
"x":{"field":"i","type":"quantitative","scale":{"domain":[-1.54,53.85],"nice":false,"zero":false}},
"y":{"datum":-48.4,"type":"quantitative","scale":{"domain":[-13.6,106.4],"nice":false,"zero":false}},
"text":{"field":"t"}}},
{"data":{"name":"foot"},"transform":[{"filter":"datum.s=='l'"}],"mark":{"type":"text","align":"left","baseline":"middle","fontSize":7,"color":"#333333"},"encoding":{
"x":{"datum":-4.1,"type":"quantitative","scale":{"domain":[-1.54,53.85],"nice":false,"zero":false}},
"y":{"datum":-66.4,"type":"quantitative","scale":{"domain":[-13.6,106.4],"nice":false,"zero":false}},
"text":{"field":"t"}}},
{"data":{"name":"foot"},"transform":[{"filter":"datum.s=='r'"}],"mark":{"type":"text","align":"right","baseline":"middle","fontSize":7,"color":"#333333"},"encoding":{
"x":{"datum":56.67,"type":"quantitative","scale":{"domain":[-1.54,53.85],"nice":false,"zero":false}},
"y":{"datum":-66.4,"type":"quantitative","scale":{"domain":[-13.6,106.4],"nice":false,"zero":false}},
"text":{"field":"t"}}}
]
}
]
}
